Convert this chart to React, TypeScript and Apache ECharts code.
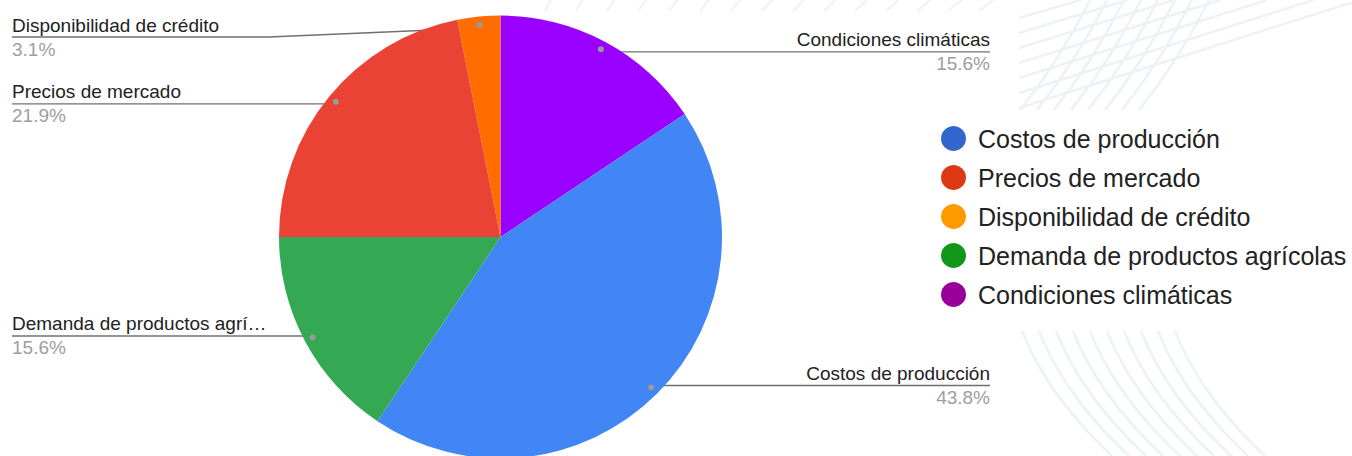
import { useEffect, useRef } from "react";
import * as echarts from "echarts";

const pieNames = [
  "Condiciones climáticas",
  "Costos de producción",
  "Demanda de productos agrícolas",
  "Precios de mercado",
  "Disponibilidad de crédito",
];
const pieValues = [5, 14, 5, 7, 1];
const pieColors = ["#9900ff", "#4285f4", "#34a853", "#ea4335", "#ff6d01"];

const legendNames = [
  "Costos de producción",
  "Precios de mercado",
  "Disponibilidad de crédito",
  "Demanda de productos agrícolas",
  "Condiciones climáticas",
];
const legendColors = ["#3366cc", "#dc3912", "#ff9900", "#109618", "#990099"];

const FONT = "Arial, 'Liberation Sans', sans-serif";
const CX = 500.5;
const CY = 237;
const R = 221.5;
const RDOT = 210;
const WM = "#edf2f6";

function watermark(): any[] {
  const els: any[] = [];
  // top band faint diagonals
  for (let i = 0; i < 15; i++) {
    const x = 545 + i * 31;
    els.push({
      type: "line",
      silent: true,
      z: -10,
      shape: { x1: x, y1: 11, x2: x + 6 + i * 0.6, y2: 0 },
      style: { stroke: WM, lineWidth: 2 },
    });
  }
  // top-right block: straight fan
  for (let i = 0; i < 7; i++) {
    const y0 = 18 + i * 15;
    els.push({
      type: "line",
      silent: true,
      z: -10,
      shape: { x1: 1019, y1: y0, x2: 1019 + (y0 + 2) * 3.1, y2: 0 },
      style: { stroke: WM, lineWidth: 2.5 },
    });
  }
  // top-right block: curves
  for (let i = 0; i < 8; i++) {
    const xb = 1020 + i * 17;
    els.push({
      type: "bezierCurve",
      silent: true,
      z: -10,
      shape: { x1: xb, y1: 110, cpx1: xb + 40, cpy1: 60, x2: xb + 70, y2: 0 },
      style: { stroke: WM, lineWidth: 2.5, fill: "none" },
    });
  }
  // bottom-right block: arcs
  for (let i = 0; i < 10; i++) {
    const xt = 1022 + i * 17;
    els.push({
      type: "bezierCurve",
      silent: true,
      z: -10,
      shape: { x1: xt, y1: 331, cpx1: xt + 25, cpy1: 395, x2: xt + 90, y2: 456 },
      style: { stroke: WM, lineWidth: 2.5, fill: "none" },
    });
  }
  return els;
}

export default function App() {
  const ref = useRef<HTMLDivElement>(null);
  useEffect(() => {
    document.body.style.margin = "0";
    if (!ref.current) return;
    const chart = echarts.init(ref.current, undefined, { renderer: "svg" });
    const option: any = {
      animation: false,
      backgroundColor: "#ffffff",
      graphic: watermark(),
      legend: {
        orient: "vertical",
        left: 941,
        top: 126,
        padding: 0,
        itemWidth: 25,
        itemHeight: 25,
        itemGap: 14,
        icon: "circle",
        selectedMode: false,
        textStyle: {
          fontSize: 25,
          lineHeight: 25,
          color: "#222",
          fontFamily: FONT,
          padding: [0, 0, 0, 7],
        },
        data: legendNames.map((n, i) => ({ name: n, itemStyle: { color: legendColors[i] } })),
      },
      series: [
        {
          type: "pie",
          center: [CX, CY],
          radius: R,
          startAngle: 90,
          clockwise: true,
          percentPrecision: 1,
          silent: true,
          avoidLabelOverlap: false,
          itemStyle: { borderWidth: 0 },
          emphasis: { disabled: true },
          data: pieNames.map((n, i) => ({
            name: n,
            value: pieValues[i],
            itemStyle: { color: pieColors[i] },
          })),
          label: {
            show: true,
            formatter: "{n|{b}}\n{p|{d}%}",
            width: 258,
            overflow: "truncate",
            ellipsis: "…",
            rich: {
              n: { fontSize: 19, color: "#222", lineHeight: 24, fontFamily: FONT },
              p: { fontSize: 19, color: "#9e9e9e", lineHeight: 24, fontFamily: FONT },
            },
          },
          labelLine: {
            show: true,
            length: 10,
            length2: 10,
            lineStyle: { color: "#707070", width: 1.3 },
          },
          labelLayout: (p: any) => {
            const pts = p.labelLinePoints;
            if (!pts) return {};
            const s = pts[0];
            const dx = s[0] - CX;
            const dy = s[1] - CY;
            const len = Math.hypot(dx, dy) || 1;
            const x0 = CX + (dx / len) * RDOT;
            const y0 = CY + (dy / len) * RDOT;
            const left = dx < 0;
            const lineY = Math.max(y0, 37);
            const ex = left ? 12 : 990;
            const mx = left ? x0 - 211 : x0 + 211;
            return {
              x: ex,
              y: lineY,
              align: left ? "left" : "right",
              verticalAlign: "middle",
              labelLinePoints: [
                [x0, y0],
                [mx, lineY],
                [ex, lineY],
              ],
            };
          },
        },
        {
          type: "pie",
          center: [CX, CY],
          radius: [RDOT - 12, RDOT + 12],
          startAngle: 90,
          clockwise: true,
          silent: true,
          z: 5,
          emphasis: { disabled: true },
          data: pieNames.map((n, i) => ({
            name: n,
            value: pieValues[i],
            itemStyle: { color: "rgba(0,0,0,0)" },
          })),
          label: {
            show: true,
            position: "inside",
            formatter: "{dot|}",
            rich: {
              dot: { width: 6, height: 6, borderRadius: 3, backgroundColor: "#9a9a9a" },
            },
          },
          labelLine: { show: false },
        },
      ],
    };
    chart.setOption(option);
    return () => chart.dispose();
  }, []);
  return <div ref={ref} style={{ width: 1352, height: 456 }} />;
}
